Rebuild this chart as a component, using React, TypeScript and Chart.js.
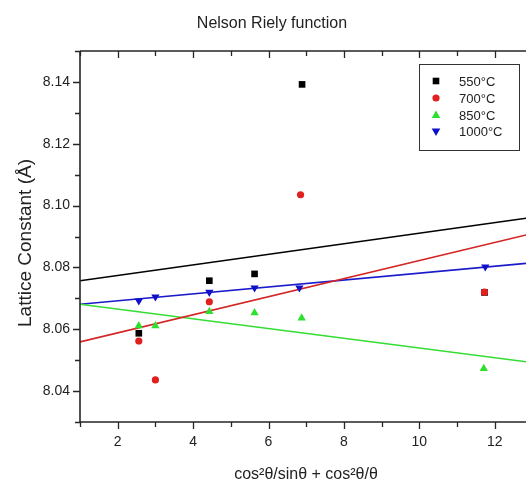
import React, { useEffect, useRef } from "react";
import { Chart, registerables } from "chart.js";
Chart.register(...registerables);

const titleText = "Nelson Riely function";
const xTitle = "cos²θ/sinθ + cos²θ/θ";
const yTitle = "Lattice Constant (Å)";

const seriesLabels = ["550°C", "700°C", "850°C", "1000°C"];
const seriesColors = ["#000000", "#e0201e", "#2ee02e", "#1010c8"];
const fitColors = ["#000000", "#d42424", "#33dd33", "#1a1acc"];

const x550 = [2.56, 4.43, 5.63, 6.89, 11.73];
const y550 = [8.0587, 8.0757, 8.0779, 8.1392, 8.0719];
const x700 = [2.56, 3.0, 4.43, 6.85, 11.73];
const y700 = [8.0562, 8.0436, 8.0689, 8.1035, 8.072];
const x850 = [2.56, 3.0, 4.43, 5.63, 6.88, 11.71];
const y850 = [8.0611, 8.0611, 8.0657, 8.0653, 8.0636, 8.0473];
const x1000 = [2.56, 3.0, 4.43, 5.63, 6.82, 11.75];
const y1000 = [8.0692, 8.0705, 8.072, 8.0734, 8.0734, 8.0802];

// linear fit lines, evaluated at the axis ends
const fitX = [1, 12.83];
const fit550 = [8.0757, 8.0959];
const fit700 = [8.0559, 8.0905];
const fit850 = [8.0681, 8.0495];
const fit1000 = [8.0681, 8.0813];

const xMin = 1;
const xMax = 12.83;
const yMin = 8.03;
const yMax = 8.15;
const xMajorTicks = [2, 4, 6, 8, 10, 12];
const xMinorTicks = [1, 3, 5, 7, 9, 11];
const yMajorTicks = [8.04, 8.06, 8.08, 8.1, 8.12, 8.14];
const yMinorTicks = [8.03, 8.05, 8.07, 8.09, 8.11, 8.13, 8.15];

const FONT = "'Liberation Sans', Arial, sans-serif";

const toPts = (xs: number[], ys: number[]) => xs.map((x, i) => ({ x, y: ys[i] }));

function drawMarker(ctx: CanvasRenderingContext2D, style: string, x: number, y: number, color: string) {
  ctx.fillStyle = color;
  ctx.beginPath();
  if (style === "rect") {
    ctx.rect(x - 3.3, y - 3.3, 6.6, 6.6);
  } else if (style === "circle") {
    ctx.arc(x, y, 3.6, 0, Math.PI * 2);
  } else if (style === "triangle") {
    ctx.moveTo(x, y - 4.6);
    ctx.lineTo(x + 4.3, y + 3);
    ctx.lineTo(x - 4.3, y + 3);
    ctx.closePath();
  } else {
    ctx.moveTo(x, y + 4.6);
    ctx.lineTo(x + 4.3, y - 3);
    ctx.lineTo(x - 4.3, y - 3);
    ctx.closePath();
  }
  ctx.fill();
}

const markerStyles = ["rect", "circle", "triangle", "invTriangle"];

const framePlugin = {
  id: "frame",
  afterDatasetsDraw(chart: any) {
    const ctx: CanvasRenderingContext2D = chart.ctx;
    const { left, right, top, bottom } = chart.chartArea;
    const xs = chart.scales.x;
    const ys = chart.scales.y;
    ctx.save();
    ctx.strokeStyle = "#262626";
    ctx.lineWidth = 1.6;
    ctx.beginPath();
    ctx.moveTo(left, top);
    ctx.lineTo(right + 2, top);
    ctx.moveTo(left, top);
    ctx.lineTo(left, bottom);
    ctx.lineTo(right + 2, bottom);
    ctx.stroke();

    ctx.lineWidth = 1.3;
    ctx.beginPath();
    const major = 7;
    const minor = 5;
    xMajorTicks.forEach((v) => {
      const px = Math.round(xs.getPixelForValue(v)) + 0.5;
      ctx.moveTo(px, bottom);
      ctx.lineTo(px, bottom + major);
      ctx.moveTo(px, top);
      ctx.lineTo(px, top + major);
    });
    xMinorTicks.forEach((v) => {
      const px = Math.round(xs.getPixelForValue(v)) + 0.5;
      ctx.moveTo(px, bottom);
      ctx.lineTo(px, bottom + minor);
      ctx.moveTo(px, top);
      ctx.lineTo(px, top + minor);
    });
    yMajorTicks.forEach((v) => {
      const py = Math.round(ys.getPixelForValue(v)) + 0.5;
      ctx.moveTo(left, py);
      ctx.lineTo(left - major, py);
    });
    yMinorTicks.forEach((v) => {
      const py = Math.round(ys.getPixelForValue(v)) + 0.5;
      ctx.moveTo(left, py);
      ctx.lineTo(left - minor, py);
    });
    ctx.stroke();

    ctx.fillStyle = "#222";
    ctx.font = `14px ${FONT}`;
    ctx.textAlign = "center";
    ctx.textBaseline = "middle";
    xMajorTicks.forEach((v) => {
      ctx.fillText(String(v), xs.getPixelForValue(v), bottom + 20);
    });
    ctx.textAlign = "right";
    yMajorTicks.forEach((v) => {
      ctx.fillText(v.toFixed(2), left - 10, ys.getPixelForValue(v));
    });

    // titles
    ctx.font = `16px ${FONT}`;
    ctx.textAlign = "center";
    ctx.textBaseline = "alphabetic";
    ctx.fillText(titleText, 272, 28);
    ctx.fillText(xTitle, 306, 479);
    ctx.save();
    ctx.font = `19px ${FONT}`;
    ctx.translate(31, 243);
    ctx.rotate(-Math.PI / 2);
    ctx.fillText(yTitle, 0, 0);
    ctx.restore();

    // legend
    const bx = 419.5, by = 64.5, bw = 100, bh = 86;
    ctx.fillStyle = "#ffffff";
    ctx.fillRect(bx, by, bw, bh);
    ctx.strokeStyle = "#333";
    ctx.lineWidth = 1;
    ctx.strokeRect(bx, by, bw, bh);
    const rows = [81, 98, 115, 131.5];
    ctx.font = `13px ${FONT}`;
    ctx.textAlign = "left";
    ctx.textBaseline = "middle";
    chart.data.datasets.slice(0, 4).forEach((ds: any, i: number) => {
      drawMarker(ctx, markerStyles[i], 436, rows[i], seriesColors[i]);
      ctx.fillStyle = "#222";
      ctx.fillText(ds.label, 459, rows[i] + 1);
    });
    ctx.restore();
  },
};

export default function App() {
  const ref = useRef<HTMLCanvasElement>(null);
  useEffect(() => {
    if (!ref.current) return;
    const scatter = (i: number, data: any[], style: any, rot: number, radius: number) => ({
      type: "scatter" as const,
      label: seriesLabels[i],
      data,
      showLine: false,
      pointStyle: style,
      rotation: rot,
      pointRadius: radius,
      pointBorderWidth: 0,
      pointBackgroundColor: seriesColors[i],
      pointBorderColor: seriesColors[i],
      order: 4 - i,
    });
    const fit = (i: number, ys: number[]) => ({
      type: "line" as const,
      label: "fit " + seriesLabels[i],
      data: toPts(fitX, ys),
      borderColor: fitColors[i],
      borderWidth: 1.6,
      pointRadius: 0,
      fill: false,
      order: 10 + i,
    });
    const chart = new Chart(ref.current, {
      type: "scatter",
      data: {
        datasets: [
          scatter(0, toPts(x550, y550), "rect", 0, 4.7),
          scatter(1, toPts(x700, y700), "circle", 0, 3.6),
          scatter(2, toPts(x850, y850), "triangle", 0, 4.8),
          scatter(3, toPts(x1000, y1000), "triangle", 180, 4.8),
          fit(0, fit550),
          fit(1, fit700),
          fit(2, fit850),
          fit(3, fit1000),
        ] as any,
      },
      options: {
        animation: false,
        responsive: false,
        devicePixelRatio: 1,
        layout: { autoPadding: false, padding: { left: 80, top: 51, right: 0, bottom: 60 } },
        plugins: { legend: { display: false }, tooltip: { enabled: false }, title: { display: false } },
        scales: {
          x: { type: "linear", min: xMin, max: xMax, display: false },
          y: { type: "linear", min: yMin, max: yMax, display: false },
        },
      },
      plugins: [framePlugin],
    });
    return () => chart.destroy();
  }, []);
  return (
    <div style={{ position: "fixed", left: 0, top: 0, width: 526, height: 482, background: "#fff" }}>
      <canvas ref={ref} width={526} height={482} style={{ width: 526, height: 482, display: "block" }} />
    </div>
  );
}
